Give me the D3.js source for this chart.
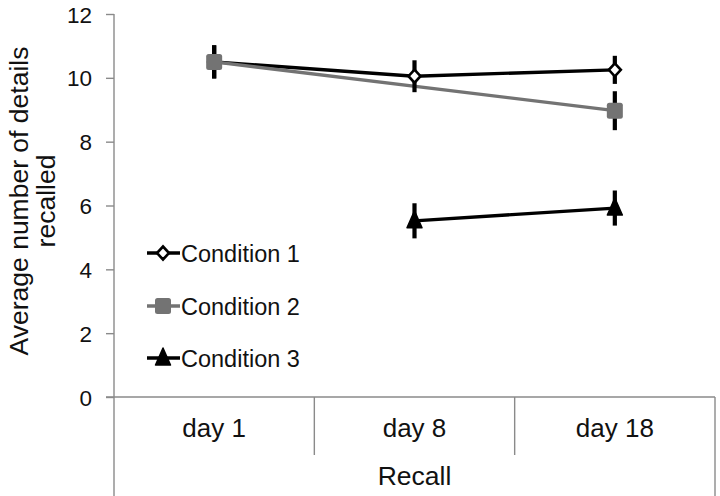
<!DOCTYPE html>
<html><head><meta charset="utf-8">
<script src="https://cdn.jsdelivr.net/npm/d3@7"></script>
<style>body{margin:0;background:#fff}svg{display:block}text{font-family:"Liberation Sans",Arial,sans-serif}</style>
</head><body>
<svg id="c" width="720" height="496"></svg>
<script>
const categories = ["day 1", "day 8", "day 18"];
const seriesNames = ["Condition 1", "Condition 2", "Condition 3"];
const cond1 = [10.5, 10.05, 10.25];
const cond1Err = [0.52, 0.5, 0.44];
const cond2 = [10.5, null, 8.97];
const cond2Err = [0.52, null, 0.61];
const cond3 = [null, 5.52, 5.92];
const cond3Err = [null, 0.55, 0.55];
const yTicks = [0, 2, 4, 6, 8, 10, 12];

const svg = d3.select("#c");
const x0 = 114, x1 = 715, yTop = 14, yBot = 397;
const x = d3.scaleBand().domain(categories).range([x0, x1]);
const y = d3.scaleLinear().domain([0, 12]).range([yBot, yTop]);
const axisCol = "#8a8a8a";
const txtCol = "#111";

// y axis
const ya = svg.append("g").attr("transform", `translate(${x0},0)`)
  .call(d3.axisLeft(y).tickValues(yTicks).tickSize(8).tickPadding(14).tickFormat(d3.format("d")));
ya.select(".domain").remove();
ya.selectAll(".tick line").attr("stroke", axisCol).attr("stroke-width", 1.4);
ya.selectAll(".tick text").attr("font-size", 22.5).attr("fill", txtCol)
  .attr("font-family", "Liberation Sans, Arial, sans-serif").attr("dy", "0.36em");
svg.append("line").attr("x1", x0).attr("x2", x0).attr("y1", yTop).attr("y2", 496)
  .attr("stroke", axisCol).attr("stroke-width", 1.4);
// x baseline
svg.append("line").attr("x1", x0 - 8).attr("x2", x1).attr("y1", yBot).attr("y2", yBot)
  .attr("stroke", axisCol).attr("stroke-width", 1.4);
// category dividers
categories.slice(1).forEach(c => {
  svg.append("line").attr("x1", x(c)).attr("x2", x(c)).attr("y1", yBot).attr("y2", 455)
    .attr("stroke", axisCol).attr("stroke-width", 1.4);
});
svg.append("line").attr("x1", x1).attr("x2", x1).attr("y1", yBot).attr("y2", 496)
  .attr("stroke", axisCol).attr("stroke-width", 1.4);
// category labels
svg.selectAll(".cat").data(categories).enter().append("text")
  .attr("x", d => x(d) + x.bandwidth() / 2).attr("y", 437).attr("text-anchor", "middle")
  .attr("font-size", 26).attr("fill", txtCol).text(d => d);
svg.append("text").attr("x", (x0 + x1) / 2).attr("y", 485).attr("text-anchor", "middle")
  .attr("font-size", 26.5).attr("fill", txtCol).text("Recall");
// y title
const yt = svg.append("text").attr("transform", `translate(0,201) rotate(-90)`)
  .attr("text-anchor", "middle").attr("font-size", 26.5).attr("fill", txtCol);
yt.append("tspan").attr("x", 0).attr("y", 28).text("Average number of details");
yt.append("tspan").attr("x", 0).attr("y", 55).text("recalled");

const cx = c => x(c) + x.bandwidth() / 2;
const series = [
  {name: seriesNames[0], vals: cond1, err: cond1Err, color: "#000", marker: "diamond"},
  {name: seriesNames[1], vals: cond2, err: cond2Err, color: "#737373", marker: "square"},
  {name: seriesNames[2], vals: cond3, err: cond3Err, color: "#000", marker: "triangle"}
];
const line = d3.line().x(d => cx(d.c)).y(d => y(d.v));

function drawMarker(g, type, px, py, color) {
  if (type === "diamond") {
    g.append("path").attr("d", `M${px},${py-6.5}L${px+6},${py}L${px},${py+6.5}L${px-6},${py}Z`)
      .attr("fill", "#fff").attr("stroke", "#000").attr("stroke-width", 2.6);
  } else if (type === "square") {
    g.append("rect").attr("x", px - 8).attr("y", py - 8).attr("width", 16).attr("height", 16)
      .attr("rx", 2.5).attr("fill", color);
  } else {
    g.append("path").attr("d", `M${px},${py-10}L${px+7.5},${py+7}L${px-7.5},${py+7}Z`)
      .attr("fill", "#000").attr("stroke", "#000").attr("stroke-width", 1.5).attr("stroke-linejoin", "round");
  }
}

const ptsOf = s => categories.map((c, j) => ({c, v: s.vals[j], e: s.err[j]})).filter(d => d.v != null);
// lines
series.forEach(s => {
  svg.append("path").datum(ptsOf(s)).attr("d", line).attr("fill", "none")
    .attr("stroke", s.color).attr("stroke-width", 3.3);
});
// error bars
series.forEach(s => {
  ptsOf(s).forEach(d => {
    svg.append("line").attr("x1", cx(d.c)).attr("x2", cx(d.c))
      .attr("y1", y(d.v - d.e)).attr("y2", y(d.v + d.e))
      .attr("stroke", "#000").attr("stroke-width", 4.2);
  });
});
// markers
series.forEach(s => {
  const g = svg.append("g");
  ptsOf(s).forEach(d => drawMarker(g, s.marker, cx(d.c), y(d.v), s.color));
});

// legend
const legY = [253, 306, 358];
series.forEach((s, i) => {
  const g = svg.append("g");
  g.append("line").attr("x1", 147).attr("x2", 180).attr("y1", legY[i]).attr("y2", legY[i])
    .attr("stroke", s.color).attr("stroke-width", 3.3);
  drawMarker(g, s.marker, 163, legY[i], s.color);
  g.append("text").attr("x", 181).attr("y", legY[i] + 8.5).attr("font-size", 23.5)
    .attr("fill", txtCol).text(s.name);
});
</script>
</body></html>
